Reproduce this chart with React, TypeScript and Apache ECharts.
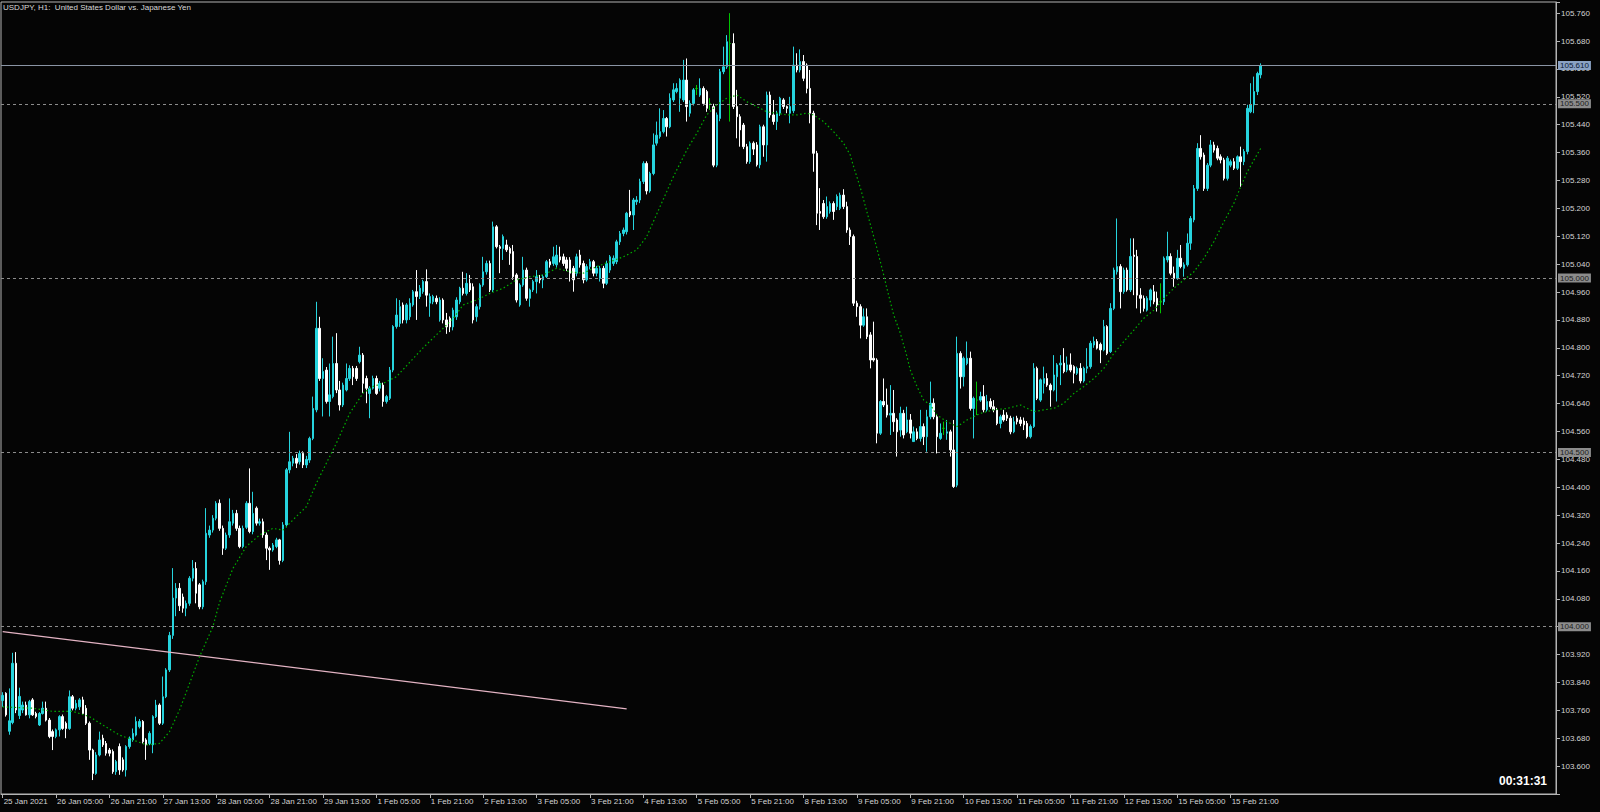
import React, { useEffect, useRef } from 'react';
import * as echarts from 'echarts';

// [open, close, low, high] per H1 bar, starting 25 Jan 2021 13:00
const candlesA = [
  [103.788,103.803,103.770,103.812],[103.809,103.747,103.742,103.812],[103.700,103.730,103.690,103.823],
  [103.725,103.895,103.720,103.925],[103.895,103.761,103.752,103.927],[103.745,103.800,103.735,103.825],
  [103.761,103.775,103.752,103.785],[103.775,103.747,103.745,103.785],[103.747,103.785,103.737,103.790],
  [103.790,103.747,103.744,103.795],[103.751,103.742,103.737,103.756],[103.718,103.751,103.715,103.755],
  [103.751,103.766,103.748,103.785],[103.766,103.732,103.728,103.785],[103.732,103.685,103.680,103.738],
  [103.699,103.685,103.646,103.705],[103.685,103.704,103.680,103.708],[103.704,103.742,103.685,103.746],
  [103.742,103.708,103.704,103.748],[103.723,103.708,103.680,103.728],[103.708,103.799,103.704,103.817],
  [103.799,103.766,103.760,103.804],[103.766,103.780,103.760,103.790],[103.770,103.790,103.761,103.795],
  [103.790,103.751,103.748,103.799],[103.766,103.723,103.718,103.775],[103.723,103.646,103.618,103.728],
  [103.646,103.579,103.560,103.650],[103.579,103.632,103.575,103.640],[103.632,103.675,103.628,103.699],
  [103.680,103.661,103.655,103.690],[103.665,103.637,103.630,103.672],[103.646,103.637,103.628,103.652],
  [103.642,103.584,103.578,103.648],[103.584,103.613,103.575,103.618],[103.656,103.589,103.575,103.665],
  [103.618,103.589,103.584,103.625],[103.589,103.656,103.570,103.660],[103.656,103.680,103.650,103.685],
  [103.675,103.694,103.670,103.708],[103.689,103.728,103.685,103.742],[103.713,103.728,103.708,103.735],
  [103.728,103.670,103.665,103.732],[103.675,103.661,103.618,103.680],[103.665,103.694,103.660,103.700],
  [103.661,103.742,103.637,103.746],[103.742,103.775,103.738,103.790],[103.775,103.723,103.718,103.780],
  [103.723,103.799,103.718,103.857],[103.799,103.876,103.795,103.881],[103.876,103.975,103.870,103.985],
  [103.975,104.082,103.965,104.168],
];
const candlesB = [
  [104.082,104.110,104.030,104.125],[104.110,104.060,104.045,104.125],[104.085,104.053,104.040,104.095],
  [104.053,104.067,104.030,104.075],[104.067,104.139,104.060,104.145],[104.139,104.167,104.130,104.191],
  [104.167,104.096,104.067,104.185],[104.120,104.057,104.050,104.125],[104.057,104.129,104.050,104.135],
  [104.129,104.268,104.120,104.340],[104.263,104.277,104.255,104.290],[104.277,104.311,104.270,104.320],
  [104.311,104.354,104.305,104.360],[104.354,104.282,104.275,104.365],[104.282,104.225,104.206,104.290],
  [104.225,104.263,104.220,104.270],[104.263,104.301,104.255,104.368],[104.297,104.325,104.290,104.335],
  [104.325,104.282,104.275,104.335],[104.282,104.230,104.225,104.290],[104.230,104.282,104.225,104.290],
  [104.285,104.354,104.280,104.360],[104.354,104.273,104.268,104.454],[104.273,104.325,104.265,104.387],
  [104.340,104.297,104.290,104.345],[104.297,104.301,104.290,104.310],[104.301,104.263,104.255,104.310],
  [104.263,104.225,104.191,104.270],[104.225,104.220,104.163,104.230],[104.220,104.234,104.215,104.240],
  [104.230,104.249,104.225,104.255],[104.249,104.190,104.178,104.252],[104.190,104.292,104.185,104.300],
  [104.292,104.450,104.285,104.455],[104.450,104.473,104.440,104.559],[104.469,104.483,104.460,104.490],
  [104.483,104.469,104.455,104.495],[104.473,104.497,104.465,104.505],[104.497,104.464,104.455,104.503],
  [104.464,104.480,104.455,104.490],[104.478,104.540,104.470,104.545],[104.540,104.626,104.535,104.660],
  [104.622,104.856,104.615,104.932],[104.856,104.712,104.705,104.889],[104.712,104.732,104.603,104.770],
  [104.736,104.646,104.640,104.745],[104.646,104.665,104.603,104.755],[104.660,104.755,104.655,104.832],
  [104.755,104.679,104.670,104.842],[104.679,104.636,104.620,104.705],[104.636,104.693,104.630,104.700],
  [104.679,104.712,104.675,104.755],[104.712,104.741,104.705,104.750],[104.741,104.717,104.693,104.748],
  [104.741,104.712,104.705,104.748],[104.760,104.779,104.755,104.803],[104.779,104.698,104.670,104.785],
  [104.712,104.684,104.641,104.720],[104.669,104.684,104.598,104.690],[104.684,104.712,104.680,104.720],
  [104.712,104.669,104.665,104.720],[104.684,104.698,104.675,104.705],[104.693,104.646,104.631,104.700],
  [104.646,104.660,104.640,104.665],[104.655,104.736,104.650,104.745],[104.736,104.861,104.730,104.865],
  [104.861,104.894,104.855,104.942],
];
const candlesC = [
  [104.870,104.918,104.860,104.937],[104.923,104.880,104.870,104.930],[104.880,104.923,104.870,104.928],
  [104.889,104.928,104.880,104.942],[104.923,104.961,104.918,104.966],[104.961,104.947,104.880,105.023],
  [104.947,104.971,104.940,104.980],[104.961,104.990,104.955,104.995],[104.990,104.951,104.918,105.025],
  [104.928,104.947,104.889,104.956],[104.932,104.947,104.925,104.952],[104.942,104.932,104.925,104.950],
  [104.880,104.937,104.875,104.945],[104.937,104.880,104.870,104.942],[104.880,104.860,104.840,104.900],
  [104.885,104.860,104.845,104.890],[104.860,104.908,104.850,104.915],[104.889,104.937,104.880,104.945],
  [104.932,104.971,104.925,104.975],[104.971,104.956,104.950,105.018],[104.956,104.985,104.950,105.014],
  [104.985,104.966,104.960,105.009],[104.975,104.880,104.870,104.985],[104.889,104.918,104.875,104.925],
  [104.918,104.980,104.910,104.985],[104.980,105.018,104.975,105.061],[105.018,105.042,105.010,105.050],
  [105.042,104.966,104.960,105.050],[104.966,105.147,104.960,105.162],[105.147,105.090,105.085,105.152],
  [105.090,105.085,105.014,105.095],[105.085,105.119,105.052,105.125],[105.095,105.081,105.075,105.110],
  [105.085,105.071,105.038,105.090],[105.076,105.004,104.995,105.095],[105.009,104.937,104.930,105.014],
  [104.923,104.980,104.918,104.985],[104.980,105.023,104.975,105.061],[105.023,104.942,104.935,105.030],
  [104.942,104.966,104.918,104.970],[104.966,104.990,104.960,104.995],[104.990,105.004,104.956,105.023],
  [104.999,104.995,104.985,105.009],[104.995,105.004,104.971,105.010],[105.004,105.047,105.000,105.052],
  [105.047,105.038,105.030,105.055],[105.042,105.061,105.035,105.090],[105.038,105.066,105.030,105.095],
  [105.061,105.052,105.045,105.090],[105.061,105.042,105.035,105.070],[105.052,105.028,105.020,105.060],
  [105.052,105.014,104.990,105.060],[105.028,104.995,104.961,105.035],[105.014,105.061,105.005,105.070],
  [105.066,105.038,105.030,105.081],[105.042,104.995,104.985,105.050],[104.995,105.033,104.990,105.040],
  [105.033,105.047,105.025,105.055],[105.047,105.014,105.005,105.052],[105.014,105.028,105.005,105.035],
  [104.999,105.028,104.990,105.035],[105.028,104.985,104.971,105.035],[104.985,105.042,104.980,105.050],
  [105.023,105.061,105.015,105.066],[105.042,105.057,105.035,105.065],[105.047,105.104,105.040,105.110],
  [105.104,105.128,105.095,105.135],[105.128,105.138,105.120,105.145],[105.133,105.186,105.125,105.190],
  [105.191,105.181,105.175,105.253],[105.181,105.224,105.138,105.230],[105.219,105.224,105.210,105.235],
  [105.224,105.277,105.215,105.285],
];
const candlesD = [
  [105.277,105.329,105.270,105.335],[105.329,105.250,105.240,105.335],[105.250,105.300,105.245,105.305],
  [105.300,105.382,105.295,105.415],[105.387,105.410,105.380,105.449],[105.406,105.420,105.400,105.487],
  [105.420,105.458,105.415,105.482],[105.458,105.434,105.406,105.462],[105.434,105.516,105.430,105.530],
  [105.511,105.540,105.505,105.559],[105.535,105.544,105.530,105.559],[105.516,105.568,105.477,105.573],
  [105.511,105.568,105.505,105.626],[105.568,105.492,105.449,105.630],[105.473,105.501,105.463,105.510],
  [105.501,105.540,105.495,105.545],[105.544,105.544,105.525,105.554],[105.525,105.544,105.520,105.573],
  [105.544,105.501,105.495,105.550],[105.535,105.487,105.477,105.540],[105.501,105.501,105.482,105.516],
  [105.492,105.324,105.318,105.500],[105.324,105.468,105.318,105.475],[105.458,105.592,105.450,105.600],
  [105.592,105.606,105.585,105.664],[105.606,105.678,105.600,105.697],[105.673,105.673,105.449,105.760],
  [105.673,105.492,105.485,105.702],[105.492,105.463,105.401,105.540],[105.463,105.425,105.377,105.470],
  [105.439,105.377,105.370,105.445],[105.377,105.334,105.328,105.385],[105.334,105.387,105.328,105.392],
  [105.387,105.370,105.353,105.392],[105.382,105.325,105.320,105.390],[105.325,105.434,105.315,105.440],
  [105.434,105.382,105.348,105.440],[105.382,105.525,105.334,105.535],[105.525,105.468,105.460,105.535],
  [105.468,105.449,105.440,105.511],[105.449,105.473,105.425,105.480],[105.473,105.516,105.465,105.520],
  [105.511,105.492,105.485,105.516],[105.492,105.487,105.473,105.495],[105.473,105.492,105.444,105.520],
  [105.480,105.611,105.473,105.664],
];
const candlesE = [
  [105.611,105.597,105.590,105.645],[105.597,105.621,105.590,105.656],[105.621,105.573,105.565,105.640],
  [105.611,105.544,105.530,105.616],[105.544,105.473,105.444,105.597],[105.473,105.358,105.305,105.480],
  [105.358,105.186,105.152,105.365],[105.191,105.186,105.138,105.258],[105.214,105.176,105.170,105.224],
  [105.176,105.205,105.170,105.234],[105.191,105.214,105.185,105.220],[105.214,105.191,105.167,105.220],
  [105.205,105.234,105.195,105.240],[105.200,105.238,105.195,105.245],[105.238,105.205,105.198,105.255],
  [105.205,105.138,105.130,105.219],[105.138,105.119,105.095,105.145],[105.119,104.928,104.920,105.125],
  [104.928,104.918,104.889,104.935],[104.918,104.865,104.827,104.925],[104.865,104.889,104.860,104.913],
  [104.889,104.832,104.825,104.913],[104.837,104.765,104.741,104.845],[104.770,104.765,104.760,104.875],
  [104.765,104.555,104.526,104.770],[104.555,104.646,104.550,104.650],[104.646,104.636,104.630,104.712],
  [104.636,104.607,104.600,104.683],[104.607,104.612,104.550,104.693],[104.612,104.588,104.559,104.679],
  [104.593,104.559,104.488,104.598],[104.564,104.612,104.545,104.631],[104.612,104.550,104.540,104.622],
  [104.559,104.593,104.555,104.631],[104.593,104.555,104.540,104.610],[104.531,104.559,104.531,104.574],
  [104.559,104.540,104.535,104.569],[104.540,104.574,104.531,104.622],[104.574,104.545,104.521,104.583],
  [104.545,104.602,104.502,104.622],[104.602,104.641,104.595,104.703],[104.641,104.602,104.595,104.655],
  [104.602,104.545,104.497,104.610],[104.540,104.555,104.536,104.583],[104.569,104.569,104.550,104.588],
  [104.555,104.559,104.536,104.593],[104.559,104.507,104.488,104.565],[104.507,104.402,104.398,104.593],
  [104.406,104.784,104.400,104.832],[104.784,104.717,104.683,104.790],[104.717,104.770,104.689,104.775],
  [104.755,104.770,104.750,104.818],[104.770,104.626,104.620,104.789],[104.626,104.655,104.540,104.660],
  [104.650,104.650,104.607,104.703],[104.650,104.660,104.645,104.674],[104.660,104.622,104.615,104.693],
  [104.622,104.646,104.617,104.665],[104.646,104.631,104.625,104.655],[104.631,104.622,104.615,104.650],
  [104.622,104.583,104.578,104.628],[104.583,104.602,104.569,104.608],[104.607,104.593,104.588,104.622],
  [104.607,104.598,104.590,104.615],[104.598,104.559,104.552,104.605],[104.559,104.588,104.555,104.602],
  [104.598,104.588,104.580,104.605],[104.593,104.583,104.575,104.602],
];
const candlesF = [
  [104.590,104.579,104.564,104.600],[104.583,104.545,104.540,104.590],[104.545,104.574,104.540,104.580],
  [104.574,104.741,104.570,104.756],[104.741,104.655,104.650,104.746],[104.650,104.708,104.645,104.712],
  [104.698,104.712,104.669,104.746],[104.712,104.693,104.688,104.727],[104.693,104.679,104.631,104.698],
  [104.679,104.722,104.675,104.779],[104.717,104.751,104.646,104.756],[104.751,104.756,104.693,104.779],
  [104.756,104.732,104.727,104.799],[104.736,104.751,104.730,104.775],[104.751,104.736,104.730,104.784],
  [104.746,104.727,104.698,104.750],[104.727,104.741,104.722,104.746],[104.741,104.705,104.698,104.756],
  [104.705,104.741,104.700,104.746],[104.741,104.746,104.727,104.799],[104.746,104.813,104.740,104.820],
  [104.808,104.818,104.800,104.832],[104.818,104.799,104.795,104.825],[104.810,104.794,104.756,104.815],
  [104.794,104.861,104.790,104.880],[104.861,104.784,104.779,104.865],[104.789,104.913,104.785,104.928],
  [104.913,105.023,104.908,105.030],[105.018,105.033,105.010,105.171],[105.033,104.961,104.913,105.040],
  [104.961,105.023,104.955,105.030],[105.023,104.966,104.961,105.030],[104.966,105.062,104.960,105.114],
  [105.066,105.062,104.951,105.114],[105.062,104.951,104.913,105.081],[104.951,104.942,104.899,104.971],
  [104.942,104.913,104.904,104.950],[104.908,104.942,104.904,104.948],[104.937,104.966,104.918,104.970],
  [104.961,104.932,104.925,104.980],[104.942,104.923,104.904,104.961],[104.932,104.932,104.899,104.985],
  [104.932,105.057,104.923,105.062],[105.052,105.062,105.045,105.133],[105.062,105.014,105.008,105.071],
  [105.014,104.999,104.975,105.033],[104.999,105.057,104.995,105.081],[105.057,105.033,105.028,105.095],
  [105.028,105.038,105.004,105.045],[105.038,105.100,105.033,105.128],[105.100,105.171,105.081,105.178],
  [105.167,105.257,105.160,105.267],[105.257,105.372,105.250,105.387],[105.372,105.348,105.340,105.410],
  [105.353,105.257,105.250,105.360],[105.257,105.324,105.250,105.330],[105.324,105.382,105.318,105.396],
  [105.382,105.367,105.360,105.391],[105.372,105.344,105.338,105.380],[105.348,105.339,105.329,105.355],
  [105.339,105.286,105.280,105.345],[105.286,105.344,105.280,105.350],[105.324,105.334,105.318,105.340],
  [105.334,105.315,105.310,105.344],[105.315,105.348,105.310,105.352],[105.348,105.334,105.262,105.377],
  [105.334,105.363,105.324,105.370],[105.363,105.487,105.355,105.497],[105.477,105.497,105.473,105.559],
  [105.497,105.535,105.473,105.578],[105.535,105.587,105.525,105.592],[105.583,105.610,105.573,105.616],
];

// time-axis labels, one every 16 bars
const tickLabels = [
  '25 Jan 2021', '26 Jan 05:00', '26 Jan 21:00', '27 Jan 13:00', '28 Jan 05:00', '28 Jan 21:00',
  '29 Jan 13:00', '1 Feb 05:00', '1 Feb 21:00', '2 Feb 13:00', '3 Feb 05:00', '3 Feb 21:00',
  '4 Feb 13:00', '5 Feb 05:00', '5 Feb 21:00', '8 Feb 13:00', '9 Feb 05:00', '9 Feb 21:00',
  '10 Feb 13:00', '11 Feb 05:00', '11 Feb 21:00', '12 Feb 13:00', '15 Feb 05:00', '15 Feb 21:00',
];
const TICK_STEP = 16;
const TOTAL_SLOTS = 466;

// moving average read at sampled bars
const maIdx = [0, 9, 15, 21, 26, 30, 35, 39, 43, 47, 50, 53, 56, 59, 63, 65, 69, 73, 77, 81, 84, 88, 91, 94, 97, 100,
  104, 108, 111, 114, 118, 126, 135, 138, 142, 146, 150, 154, 158, 162, 166, 170, 174, 178, 182, 186, 190, 193, 197,
  201, 205, 208, 211, 214, 217, 220, 223, 226, 229, 232, 235, 238, 241, 243, 246, 249, 252, 254, 255, 257, 259, 261,
  262, 264, 265, 267, 269, 271, 272, 274, 276, 278, 280, 283, 286, 289, 293, 297, 301, 305, 309, 312, 315, 318, 321,
  324, 327, 330, 333, 336, 339, 342, 345, 348, 351, 354, 357, 360, 363, 366, 369, 371, 373, 375, 377];
const maVal = [103.770, 103.766, 103.757, 103.757, 103.742, 103.718, 103.689, 103.675, 103.661, 103.665, 103.699,
  103.761, 103.837, 103.914, 104.000, 104.070, 104.167, 104.230, 104.263, 104.282, 104.277, 104.316, 104.344, 104.411,
  104.469, 104.526, 104.612, 104.670, 104.689, 104.698, 104.717, 104.800, 104.884, 104.923, 104.937, 104.956, 104.971,
  104.995, 105.004, 105.009, 105.028, 105.018, 105.014, 105.033, 105.047, 105.061, 105.081, 105.119, 105.205, 105.291,
  105.367, 105.415, 105.468, 105.497, 105.516, 105.525, 105.506, 105.492, 105.477, 105.473, 105.468, 105.468, 105.473,
  105.468, 105.449, 105.420, 105.387, 105.353, 105.320, 105.260, 105.190, 105.120, 105.085, 105.010, 104.970, 104.895,
  104.842, 104.775, 104.736, 104.689, 104.650, 104.636, 104.607, 104.588, 104.574, 104.593, 104.612, 104.622, 104.626,
  104.636, 104.617, 104.622, 104.626, 104.641, 104.669, 104.689, 104.712, 104.741, 104.784, 104.818, 104.851, 104.885,
  104.908, 104.942, 104.971, 104.995, 105.018, 105.057, 105.105, 105.162, 105.215, 105.262, 105.305, 105.339, 105.372];

const levelLines = [105.5, 105.0, 104.5, 104.0];
const bidPrice = 105.61;
const trendStart = [0, 103.986];
const trendEnd = [187, 103.764];
const titleText = 'USDJPY, H1:  United States Dollar vs. Japanese Yen';
const timerText = '00:31:31';

const FONT = 'Liberation Sans';

export default function App() {
  const ref = useRef<HTMLDivElement>(null);
  useEffect(() => {
    document.body.style.margin = '0';
    document.body.style.background = '#050505';
    const chart = echarts.init(ref.current as HTMLDivElement, null, { renderer: 'svg' });
    const candles = [...candlesA, ...candlesB, ...candlesC, ...candlesD, ...candlesE, ...candlesF];
    const cats = Array.from({ length: TOTAL_SLOTS }, (_, i) => String(i));
    const ma: (number | null)[] = new Array(candles.length).fill(null);
    maIdx.forEach((ix, k) => { ma[ix] = maVal[k]; });
    const isLabel = (i: number) => i % TICK_STEP === 0 && i / TICK_STEP < tickLabels.length;

    chart.setOption({
      animation: false,
      backgroundColor: '#050505',
      title: {
        text: titleText, left: 3, top: 3, padding: 0,
        textStyle: { color: '#d8d8d8', fontSize: 8, fontWeight: 'normal', fontFamily: FONT },
      },
      graphic: [{
        type: 'text', right: 53, bottom: 25,
        style: { text: timerText, fill: '#ffffff', font: `bold 12px "${FONT}"` },
      }],
      grid: { left: 1, top: 2, width: 1555, height: 792, show: true, borderColor: '#b4b4b4', borderWidth: 1 },
      xAxis: {
        type: 'category', data: cats, boundaryGap: true,
        axisLine: { show: true, lineStyle: { color: '#b4b4b4' } },
        axisTick: { show: true, alignWithLabel: true, interval: (i: number) => isLabel(i), length: 4, lineStyle: { color: '#b4b4b4' } },
        axisLabel: {
          interval: (i: number) => isLabel(i),
          formatter: (_v: string, i: number) => tickLabels[i / TICK_STEP] || '',
          align: 'left', color: '#d4d4d4', fontSize: 8, fontFamily: FONT, margin: 3, padding: [0, 0, 0, 1],
        },
        splitLine: { show: false },
      },
      yAxis: {
        type: 'value', position: 'right', min: 103.52, max: 105.792, interval: 0.08,
        axisLine: { show: true, lineStyle: { color: '#b4b4b4' } },
        axisTick: { show: true, length: 4, lineStyle: { color: '#b4b4b4' } },
        axisLabel: {
          formatter: (v: number) => (v < 103.55 || v > 105.77 ? '' : v.toFixed(3)),
          color: '#d4d4d4', fontSize: 8, fontFamily: FONT, margin: 5,
        },
        splitLine: { show: false },
      },
      series: [
        {
          type: 'candlestick', data: candles, barWidth: 2,
          itemStyle: {
            color: '#26d4de', color0: '#ffffff', borderColor: '#26d4de', borderColor0: '#ffffff',
            borderColorDoji: '#00c400', borderWidth: 1,
          },
          markLine: {
            silent: true, symbol: ['none', 'none'], animation: false,
            data: [
              ...levelLines.map((v) => ({
                yAxis: v,
                lineStyle: { color: '#8c8c8c', type: [3, 3], width: 1 },
                label: {
                  show: true, position: 'end', formatter: v.toFixed(3), distance: 2,
                  backgroundColor: '#8c8c8c', color: '#1c1c1c', padding: [1, 2, 0, 2], fontSize: 8, fontFamily: FONT,
                },
              })),
              {
                yAxis: bidPrice,
                lineStyle: { color: '#8a94a4', type: 'solid', width: 1 },
                label: {
                  show: true, position: 'end', formatter: bidPrice.toFixed(3), distance: 2,
                  backgroundColor: '#8aa2c4', color: '#0c1a34', padding: [1, 2, 0, 2], fontSize: 8, fontFamily: FONT,
                },
              },
              [
                { coord: trendStart, lineStyle: { color: '#e4b4c4', type: 'solid', width: 1.2 }, label: { show: false } },
                { coord: trendEnd },
              ],
            ],
          },
        },
        {
          type: 'line', data: ma, connectNulls: true, showSymbol: false, symbol: 'none', silent: true, z: 5,
          lineStyle: { color: '#00b000', width: 1.2, type: [1.5, 2.5] },
        },
      ],
    });
    return () => chart.dispose();
  }, []);
  return <div ref={ref} style={{ width: 1600, height: 812 }} />;
}
